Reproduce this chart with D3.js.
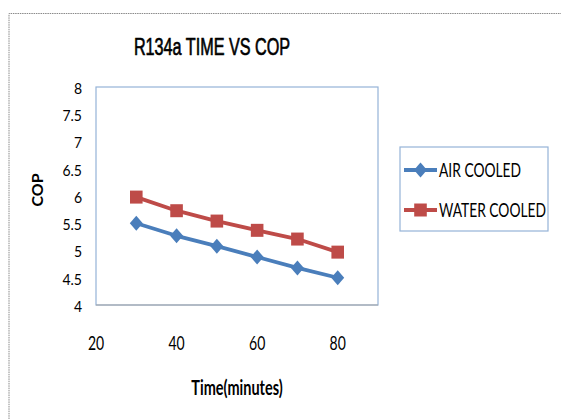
<!DOCTYPE html>
<html>
<head>
<meta charset="utf-8">
<script src="https://cdn.jsdelivr.net/npm/d3@7"></script>
<style>
  body { margin: 0; background: #fff; }
  svg { display: block; }
</style>
</head>
<body>
<script>
// data
const time = [30, 40, 50, 60, 70, 80];
const airCooled = [5.5, 5.27, 5.08, 4.88, 4.68, 4.5];
const waterCooled = [5.98, 5.73, 5.54, 5.37, 5.21, 4.97];
const xTicks = [20, 40, 60, 80];
const yTicks = [4, 4.5, 5, 5.5, 6, 6.5, 7, 7.5, 8];
const seriesNames = ["AIR COOLED", "WATER COOLED"];

const width = 561, height = 419;
const plot = {left: 96, top: 87, right: 378, bottom: 305};
const stretch = 1.38; // picture text is tall and narrow

const svg = d3.select("body").append("svg")
  .attr("width", width)
  .attr("height", height);

// outer chart border (dotted grey)
svg.append("path")
  .attr("d", `M9,${height} V13.5 H${width}`)
  .attr("fill", "none")
  .attr("stroke", "#8a8a8a")
  .attr("stroke-dasharray", "1.5,0.8");

const x = d3.scaleLinear().domain([20, 90]).range([plot.left, plot.right]);
const y = d3.scaleLinear().domain([4, 8]).range([plot.bottom, plot.top]);

// helper: text stretched vertically like the picture
const label = (g, str, px, py, opts) => {
  const t = g.append("g").attr("transform", `translate(${px},${py}) scale(1,${opts.sy || stretch})`)
    .append("text")
    .text(str)
    .attr("text-anchor", opts.anchor || "start")
    .attr("dominant-baseline", "central")
    .attr("font-family", opts.family || "Lato, 'Open Sans', sans-serif")
    .attr("font-size", opts.size || 14)
    .attr("font-weight", opts.weight || "normal")
    .attr("fill", "#000");
  return t;
};

// plot area frame
svg.append("rect")
  .attr("x", plot.left).attr("y", plot.top)
  .attr("width", plot.right - plot.left).attr("height", plot.bottom - plot.top)
  .attr("fill", "none")
  .attr("stroke", "#95b3d7")
  .attr("stroke-width", 1.2);
svg.append("line")
  .attr("x1", plot.left).attr("x2", plot.right)
  .attr("y1", plot.bottom).attr("y2", plot.bottom)
  .attr("stroke", "#a6a6a6").attr("stroke-width", 1.2);

// title (regular face, thickened a little)
label(svg, "R134a TIME VS COP", 212, 47, {anchor: "middle", size: 16.2, sy: 1.45,
  family: "'Liberation Sans', Arial, sans-serif"})
  .attr("stroke", "#000").attr("stroke-width", 0.45);

// y tick labels
const yAxis = svg.append("g");
yTicks.forEach(v => label(yAxis, d3.format("")(v), 82, y(v) + 0.5, {anchor: "end", size: 14, sy: 1.15}));

// x tick labels
const xAxis = svg.append("g");
xTicks.forEach(v => label(xAxis, String(v), x(v), 343, {anchor: "middle", size: 14}));

// axis titles
label(svg, "Time(minutes)", 237, 387, {anchor: "middle", size: 14.5, weight: "bold", sy: 1.45});
svg.append("g")
  .attr("transform", `translate(37,190) rotate(-90) scale(1.1,1)`)
  .append("text")
  .text("COP")
  .attr("text-anchor", "middle")
  .attr("dominant-baseline", "central")
  .attr("font-family", "Lato, 'Open Sans', sans-serif")
  .attr("font-size", 14.5)
  .attr("font-weight", "bold");

// marker shapes (Excel style, slightly taller than wide)
const diamondShape = "M0,-7.5L6.5,0L0,7.5L-6.5,0Z";
const squareShape = "M-6.3,-6.5H6.3V6.5H-6.3Z";
const shapes = [diamondShape, squareShape];

// series
const colors = ["#4a7ebb", "#be4b48"];
const seriesData = [airCooled, waterCooled];

const line = d3.line()
  .x((d, i) => x(time[i]))
  .y(d => y(d));

seriesData.forEach((vals, si) => {
  const g = svg.append("g");
  g.append("path")
    .datum(vals)
    .attr("d", line)
    .attr("fill", "none")
    .attr("stroke", colors[si])
    .attr("stroke-width", 3.8)
    .attr("stroke-linejoin", "round");
  g.selectAll("path.marker")
    .data(vals)
    .join("path")
    .attr("class", "marker")
    .attr("d", shapes[si])
    .attr("transform", (d, i) => `translate(${x(time[i])},${y(d)})`)
    .attr("fill", colors[si]);
});

// legend
const legend = svg.append("g");
legend.append("rect")
  .attr("x", 400).attr("y", 147)
  .attr("width", 148).attr("height", 84)
  .attr("fill", "#fff")
  .attr("stroke", "#95b3d7")
  .attr("stroke-width", 1.2);
const legendY = [170, 210];
seriesNames.forEach((name, si) => {
  legend.append("line")
    .attr("x1", 404).attr("x2", 437)
    .attr("y1", legendY[si]).attr("y2", legendY[si])
    .attr("stroke", colors[si])
    .attr("stroke-width", 3.8);
  legend.append("path")
    .attr("d", shapes[si])
    .attr("transform", `translate(420.5,${legendY[si]})`)
    .attr("fill", colors[si]);
  label(legend, name, 439, legendY[si], {size: 13.8});
});
</script>
</body>
</html>
